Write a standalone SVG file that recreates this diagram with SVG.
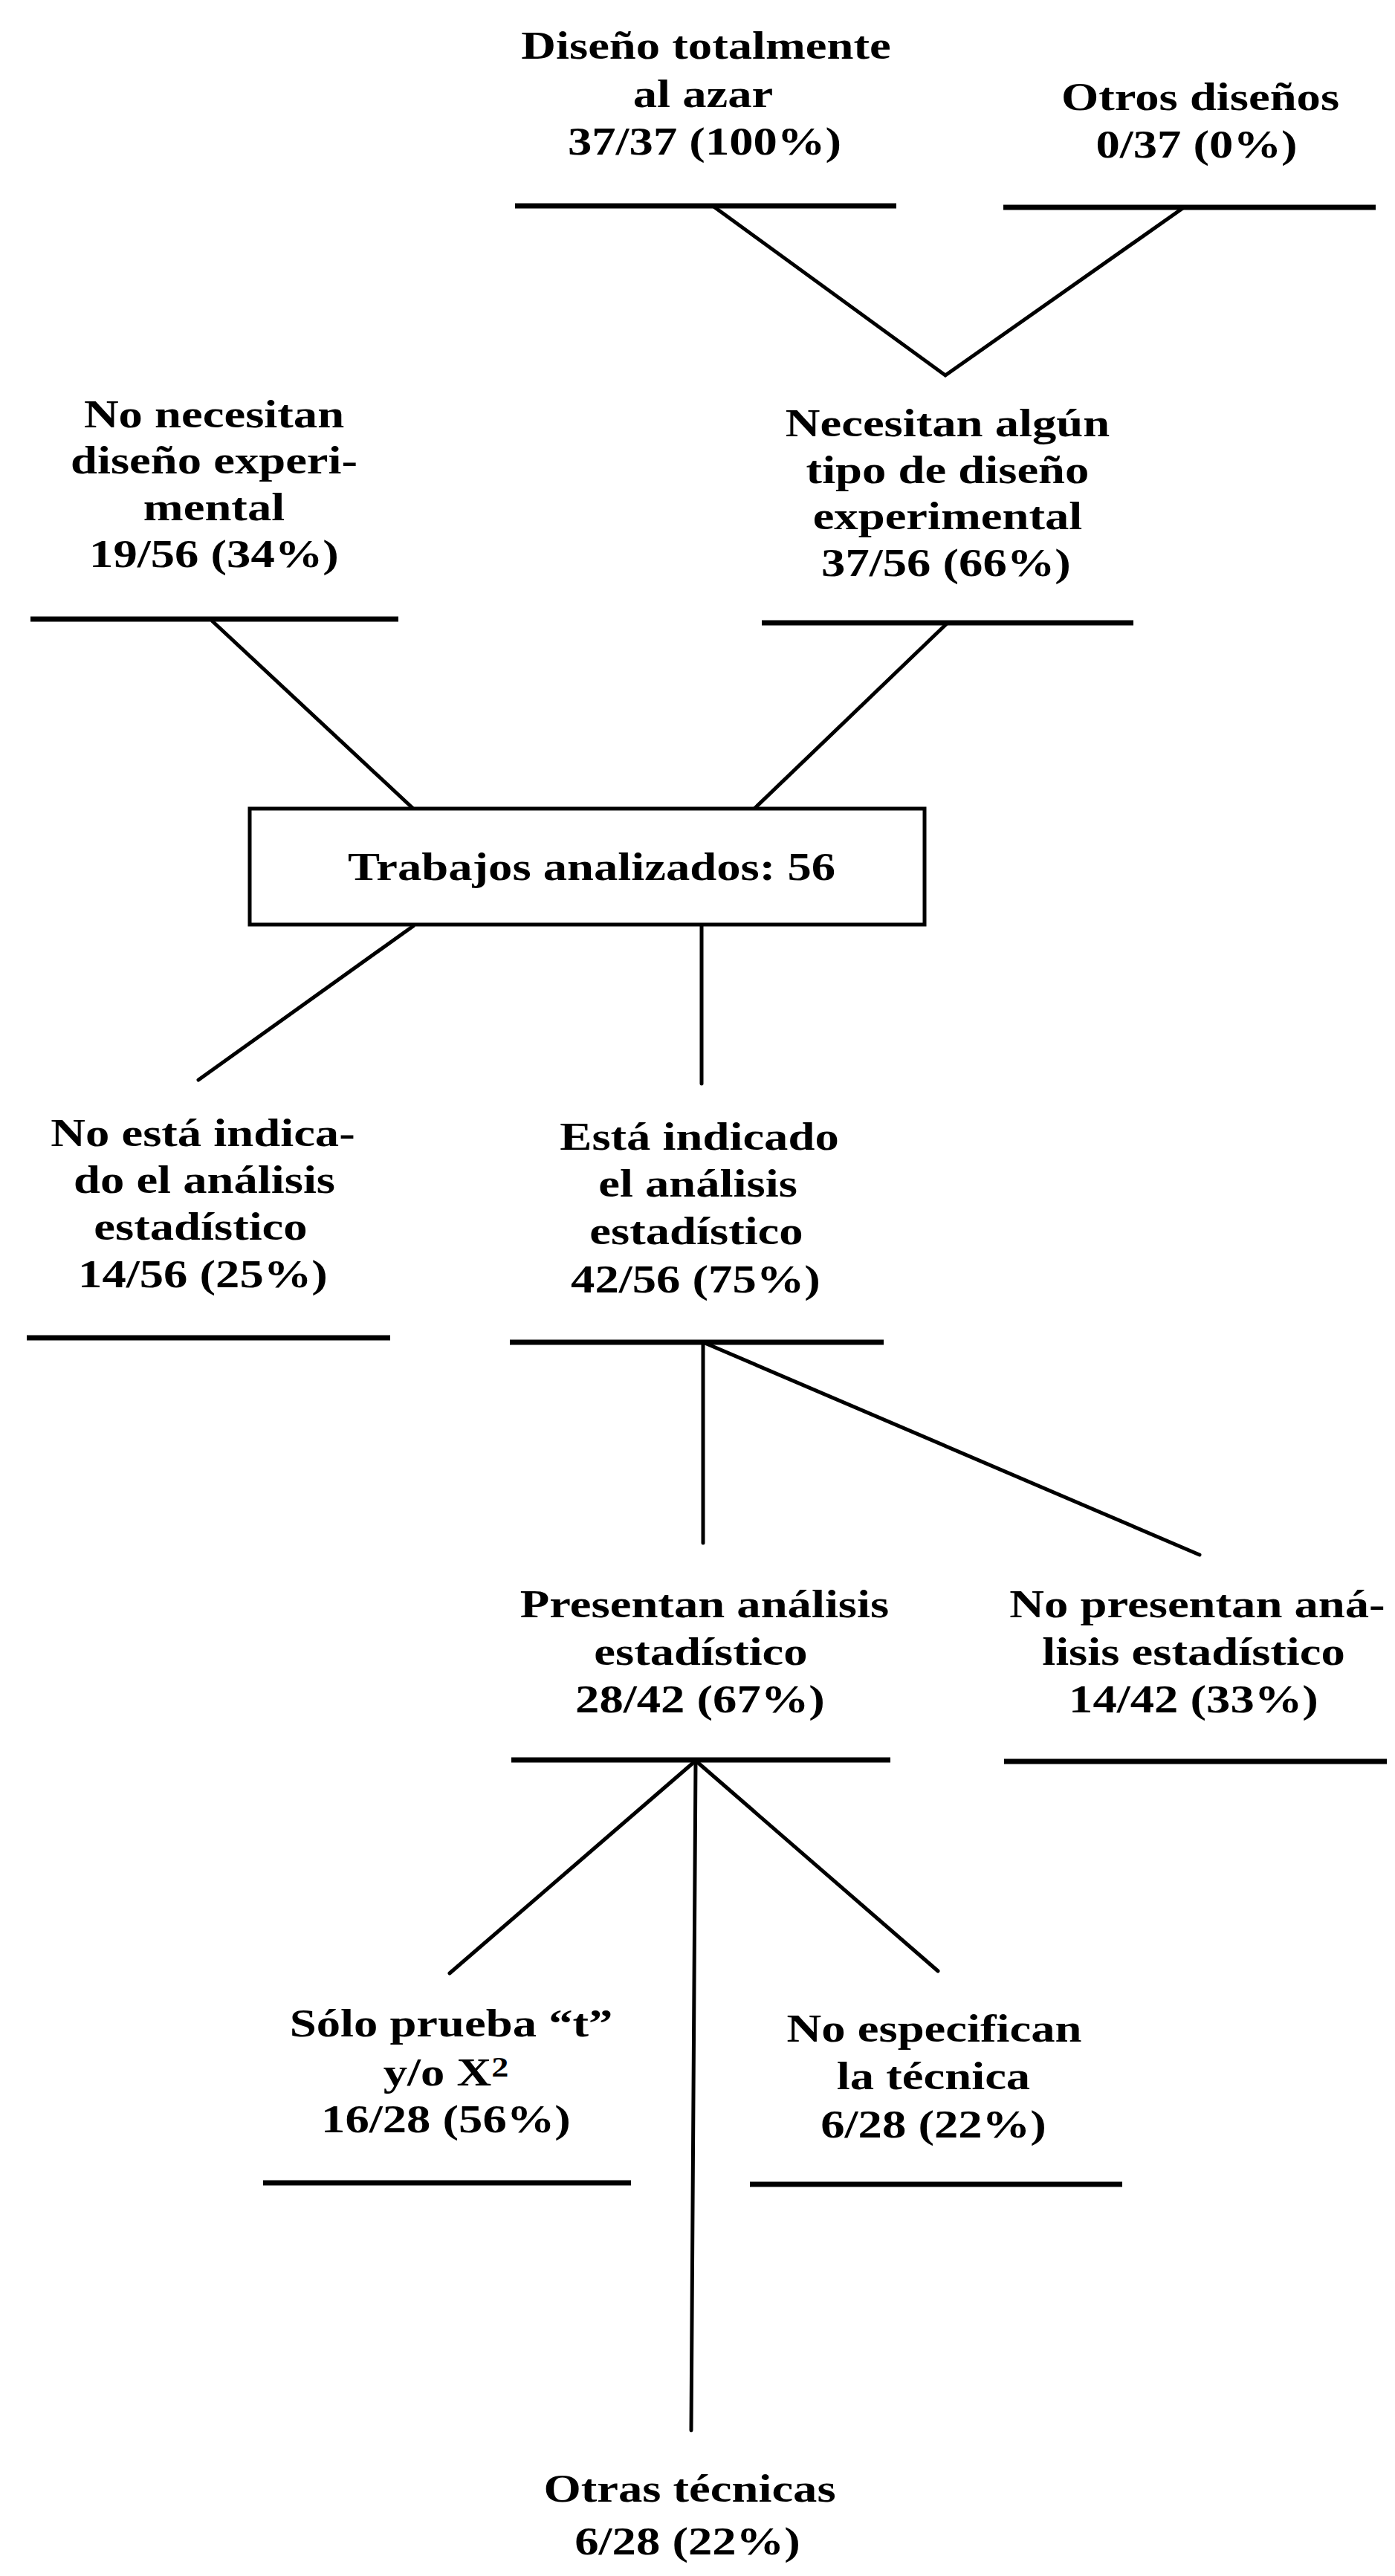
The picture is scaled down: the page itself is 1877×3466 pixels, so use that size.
<svg xmlns="http://www.w3.org/2000/svg" width="1877" height="3466" viewBox="0 0 1877 3466">
<style>
  .t { font-family: "Liberation Serif", "Times New Roman", serif; font-weight: bold; font-size: 53px; fill: #000; text-anchor: middle; }
  .h { stroke: #000; stroke-width: 7; fill: none; stroke-linecap: butt; }
  .c { stroke: #000; stroke-width: 5; fill: none; stroke-linecap: round; stroke-linejoin: miter; }
  .box { stroke: #000; stroke-width: 5; fill: #fff; }
</style>
<rect width="1877" height="3466" fill="#fff"/>

<g id="connectors">
  <polyline class="c" points="959,277 1272,505 1593,279"/>
  <line class="c" x1="286" y1="836" x2="556" y2="1088"/>
  <line class="c" x1="1275" y1="838" x2="1015" y2="1088"/>
  <line class="c" x1="556" y1="1246" x2="267" y2="1453"/>
  <line class="c" x1="944" y1="1246" x2="944" y2="1458"/>
  <line class="c" x1="946" y1="1806" x2="946" y2="2076"/>
  <line class="c" x1="946" y1="1806" x2="1614" y2="2092"/>
  <line class="c" x1="936" y1="2369" x2="605" y2="2655"/>
  <line class="c" x1="936" y1="2369" x2="930" y2="3270"/>
  <line class="c" x1="936" y1="2369" x2="1262" y2="2652"/>
</g>

<g id="n-diseno-azar">
  <text class="t" transform="translate(950,79) scale(1.22,1)">Diseño totalmente</text>
  <text class="t" transform="translate(946,144) scale(1.22,1)">al azar</text>
  <text class="t" transform="translate(948,208) scale(1.22,1)">37/37 (100%)</text>
  <line class="h" x1="693" y1="277" x2="1206" y2="277"/>
</g>

<g id="n-otros-disenos">
  <text class="t" transform="translate(1615,148) scale(1.22,1)">Otros diseños</text>
  <text class="t" transform="translate(1610,212) scale(1.22,1)">0/37 (0%)</text>
  <line class="h" x1="1350" y1="279" x2="1851" y2="279"/>
</g>

<g id="n-no-necesitan">
  <text class="t" transform="translate(288,575) scale(1.22,1)">No necesitan</text>
  <text class="t" transform="translate(288,637) scale(1.22,1)">diseño experi-</text>
  <text class="t" transform="translate(288,700) scale(1.22,1)">mental</text>
  <text class="t" transform="translate(288,763) scale(1.22,1)">19/56 (34%)</text>
  <line class="h" x1="41" y1="833" x2="536" y2="833"/>
</g>

<g id="n-necesitan">
  <text class="t" transform="translate(1275,587) scale(1.22,1)">Necesitan algún</text>
  <text class="t" transform="translate(1275,650) scale(1.22,1)">tipo de diseño</text>
  <text class="t" transform="translate(1275,712) scale(1.22,1)">experimental</text>
  <text class="t" transform="translate(1273,775) scale(1.22,1)">37/56 (66%)</text>
  <line class="h" x1="1025" y1="838" x2="1525" y2="838"/>
</g>

<g id="n-trabajos">
  <rect class="box" x="336" y="1088" width="908" height="156"/>
  <text class="t" transform="translate(796,1184) scale(1.22,1)">Trabajos analizados: 56</text>
</g>

<g id="n-no-indicado">
  <text class="t" transform="translate(273,1542) scale(1.22,1)">No está indica-</text>
  <text class="t" transform="translate(275,1605) scale(1.22,1)">do el análisis</text>
  <text class="t" transform="translate(270,1668) scale(1.22,1)">estadístico</text>
  <text class="t" transform="translate(273,1732) scale(1.22,1)">14/56 (25%)</text>
  <line class="h" x1="36" y1="1800" x2="525" y2="1800"/>
</g>

<g id="n-indicado">
  <text class="t" transform="translate(941,1547) scale(1.22,1)">Está indicado</text>
  <text class="t" transform="translate(939,1610) scale(1.22,1)">el análisis</text>
  <text class="t" transform="translate(937,1674) scale(1.22,1)">estadístico</text>
  <text class="t" transform="translate(936,1739) scale(1.22,1)">42/56 (75%)</text>
  <line class="h" x1="686" y1="1806" x2="1189" y2="1806"/>
</g>

<g id="n-presentan">
  <text class="t" transform="translate(948,2176) scale(1.22,1)">Presentan análisis</text>
  <text class="t" transform="translate(943,2240) scale(1.22,1)">estadístico</text>
  <text class="t" transform="translate(942,2304) scale(1.22,1)">28/42 (67%)</text>
  <line class="h" x1="688" y1="2368" x2="1198" y2="2368"/>
</g>

<g id="n-no-presentan">
  <text class="t" transform="translate(1611,2176) scale(1.22,1)">No presentan aná-</text>
  <text class="t" transform="translate(1606,2240) scale(1.22,1)">lisis estadístico</text>
  <text class="t" transform="translate(1606,2304) scale(1.22,1)">14/42 (33%)</text>
  <line class="h" x1="1351" y1="2370" x2="1866" y2="2370"/>
</g>

<g id="n-solo-prueba">
  <text class="t" transform="translate(607,2740) scale(1.22,1)">Sólo prueba “t”</text>
  <text class="t" transform="translate(600,2806) scale(1.22,1)">y/o X<tspan dy="-12" font-size="38">2</tspan></text>
  <text class="t" transform="translate(600,2869) scale(1.22,1)">16/28 (56%)</text>
  <line class="h" x1="354" y1="2937" x2="849" y2="2937"/>
</g>

<g id="n-no-especifican">
  <text class="t" transform="translate(1257,2747) scale(1.22,1)">No especifican</text>
  <text class="t" transform="translate(1256,2811) scale(1.22,1)">la técnica</text>
  <text class="t" transform="translate(1256,2876) scale(1.22,1)">6/28 (22%)</text>
  <line class="h" x1="1009" y1="2939" x2="1510" y2="2939"/>
</g>

<g id="n-otras">
  <text class="t" transform="translate(928,3366) scale(1.22,1)">Otras técnicas</text>
  <text class="t" transform="translate(925,3437) scale(1.22,1)">6/28 (22%)</text>
</g>
</svg>
